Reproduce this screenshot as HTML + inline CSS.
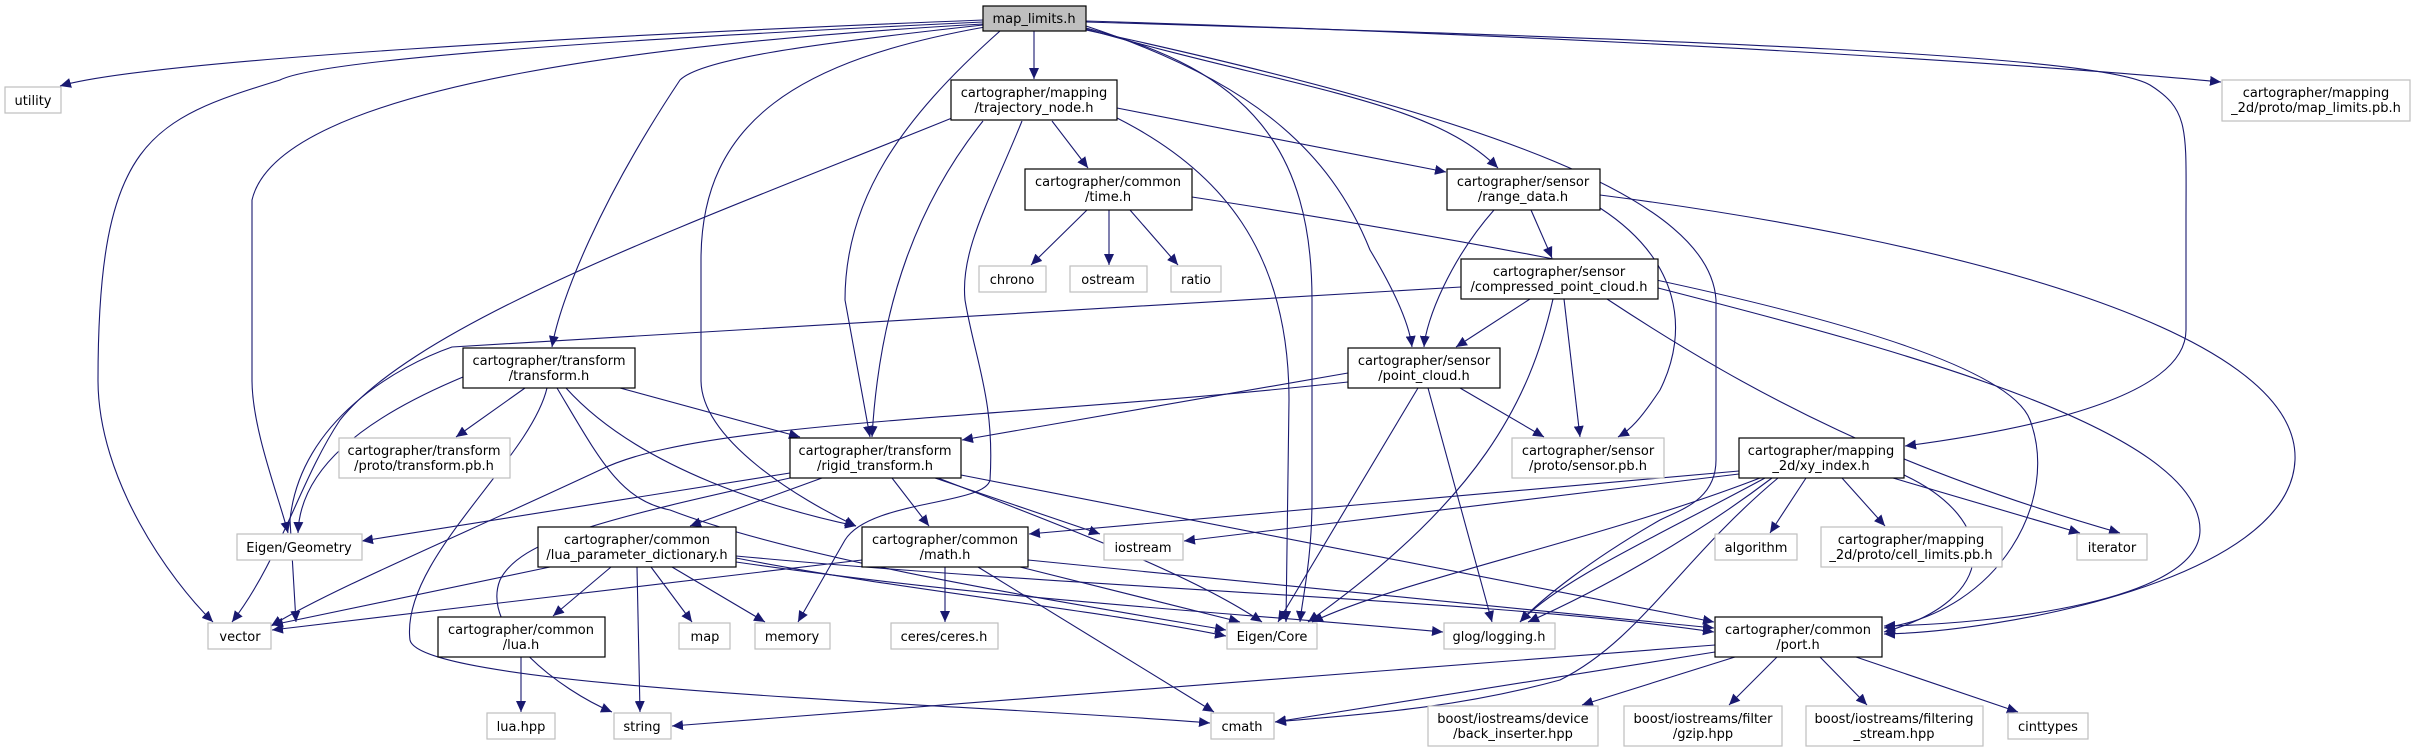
<!DOCTYPE html>
<html><head><meta charset="utf-8"><style>
html,body{margin:0;padding:0;background:#fff;}
svg{display:block;}
text{font-family:"DejaVu Sans","Liberation Sans",sans-serif;font-size:13px;fill:#000;text-anchor:middle;}
.e{fill:none;stroke:#191970;stroke-width:1.1;marker-end:url(#a);}
.n{fill:#fff;stroke:#000;stroke-width:1.2;}
.x{fill:#fff;stroke:#bfbfbf;stroke-width:1.2;}
</style></head><body>
<svg width="2416" height="752" viewBox="0 0 2416 752" xmlns="http://www.w3.org/2000/svg">
<defs><marker id="a" markerUnits="userSpaceOnUse" markerWidth="12" markerHeight="10" refX="11" refY="5" orient="auto"><path d="M0,0 L11,5 L0,10 z" fill="#191970"/></marker></defs>
<g>
<path class="e" d="M983,20 C600,35 150,60 60,86"/>
<path class="e" d="M1034,31 L1034,79"/>
<path class="e" d="M983,22 C600,40 320,60 280,80 C150,120 98,140 98,380 C98,480 170,580 213,622"/>
<path class="e" d="M983,24 C700,40 280,80 252,200 L252,380 C252,430 280,500 288,533"/>
<path class="e" d="M983,25 C800,45 700,60 680,80 C600,200 560,300 552,347"/>
<path class="e" d="M985,27 C800,60 701,120 701,260 L701,380 C701,440 800,500 856,526"/>
<path class="e" d="M1000,31 C900,120 845,200 845,300 L870,437"/>
<path class="e" d="M1086,28 C1250,70 1312,150 1312,300 L1312,500 C1312,560 1302,600 1300,622"/>
<path class="e" d="M1086,26 C1250,80 1330,150 1370,250 C1400,300 1410,330 1412,347"/>
<path class="e" d="M1086,29 C1300,90 1430,100 1498,168"/>
<path class="e" d="M1086,30 C1500,120 1710,200 1716,300 L1716,460 C1716,500 1680,510 1660,520 C1590,560 1540,600 1520,622"/>
<path class="e" d="M1086,22 C1700,40 2100,55 2150,85 C2190,110 2186,130 2186,220 L2186,330 C2186,380 2100,420 1905,446"/>
<path class="e" d="M1086,21 C1700,40 2100,70 2221,82"/>
<path class="e" d="M952,118 C700,220 420,320 340,420 C300,480 280,560 232,622"/>
<path class="e" d="M983,121 C920,200 880,300 872,437"/>
<path class="e" d="M1022,121 C990,200 960,250 965,300 C975,360 995,400 990,480 C985,505 870,500 845,540 L798,622"/>
<path class="e" d="M1117,118 C1220,170 1289,250 1289,400 L1286,622"/>
<path class="e" d="M1052,121 L1088,168"/>
<path class="e" d="M1117,108 L1446,172"/>
<path class="e" d="M1087,210 L1031,265"/>
<path class="e" d="M1109,210 L1109,265"/>
<path class="e" d="M1130,210 L1178,265"/>
<path class="e" d="M1192,197 C1600,260 2000,340 2030,420 C2060,500 2000,610 1884,628"/>
<path class="e" d="M1531,210 L1552,258"/>
<path class="e" d="M1494,210 C1450,260 1426,320 1424,347"/>
<path class="e" d="M1600,208 C1680,260 1690,330 1660,390 C1640,420 1630,430 1618,437"/>
<path class="e" d="M1600,195 C1950,240 2300,330 2295,460 C2290,580 2000,632 1884,634"/>
<path class="e" d="M1530,299 L1456,347"/>
<path class="e" d="M1553,299 C1530,400 1480,500 1308,622"/>
<path class="e" d="M1564,299 L1580,437"/>
<path class="e" d="M1607,299 C1760,400 1900,470 2120,533"/>
<path class="e" d="M1658,288 C1900,350 2200,430 2200,530 C2200,600 2000,624 1884,626"/>
<path class="e" d="M1461,287 L452,347 C400,365 300,420 290,520 L296,622"/>
<path class="e" d="M1348,373 L962,440"/>
<path class="e" d="M1348,382 C1000,420 700,420 600,470 C450,540 330,590 271,626"/>
<path class="e" d="M1460,388 L1544,437"/>
<path class="e" d="M1418,388 L1278,622"/>
<path class="e" d="M1428,388 L1492,622"/>
<path class="e" d="M525,388 L456,437"/>
<path class="e" d="M463,377 C360,420 300,470 298,533"/>
<path class="e" d="M620,388 L800,437"/>
<path class="e" d="M547,388 C530,460 400,560 410,640 C420,690 1000,705 1210,723"/>
<path class="e" d="M566,388 C640,470 780,510 856,526"/>
<path class="e" d="M557,388 C600,460 620,500 670,510 C800,560 1050,600 1226,630"/>
<path class="e" d="M790,473 L362,541"/>
<path class="e" d="M790,478 C600,520 520,540 500,580 C480,630 560,690 612,712"/>
<path class="e" d="M822,478 L690,526"/>
<path class="e" d="M892,478 L929,526"/>
<path class="e" d="M935,478 L1100,534"/>
<path class="e" d="M938,478 C1100,540 1200,580 1262,622"/>
<path class="e" d="M961,475 L1714,622"/>
<path class="e" d="M550,567 L272,625"/>
<path class="e" d="M611,567 L553,616"/>
<path class="e" d="M637,567 L640,712"/>
<path class="e" d="M651,567 L692,622"/>
<path class="e" d="M672,567 L765,622"/>
<path class="e" d="M736,558 C900,590 1100,610 1226,636"/>
<path class="e" d="M736,562 C1000,600 1200,610 1443,632"/>
<path class="e" d="M736,556 C1100,590 1500,600 1714,632"/>
<path class="e" d="M862,560 L272,630"/>
<path class="e" d="M945,567 L945,622"/>
<path class="e" d="M978,567 L1214,712"/>
<path class="e" d="M1020,567 L1240,622"/>
<path class="e" d="M1028,560 L1714,628"/>
<path class="e" d="M521,657 L521,712"/>
<path class="e" d="M1739,471 L1029,534"/>
<path class="e" d="M1739,474 L1184,541"/>
<path class="e" d="M1760,478 C1600,540 1400,580 1312,622"/>
<path class="e" d="M1765,478 C1650,540 1560,580 1520,622"/>
<path class="e" d="M1772,478 C1690,540 1600,590 1528,622"/>
<path class="e" d="M1778,478 C1680,560 1640,640 1560,680 C1450,710 1350,715 1275,722"/>
<path class="e" d="M1806,478 L1770,533"/>
<path class="e" d="M1842,478 L1885,526"/>
<path class="e" d="M1893,478 L2080,533"/>
<path class="e" d="M1904,475 C2000,520 2000,600 1884,632"/>
<path class="e" d="M1715,645 L672,726"/>
<path class="e" d="M1715,652 L1275,722"/>
<path class="e" d="M1735,657 L1582,705"/>
<path class="e" d="M1777,657 L1729,705"/>
<path class="e" d="M1820,657 L1867,705"/>
<path class="e" d="M1856,657 L2018,712"/>
</g>
<g>
<rect x="983" y="6" width="103" height="25" fill="#bfbfbf" stroke="#000" stroke-width="1.2"/><text x="1034" y="23">map_limits.h</text>
<rect class="x" x="5" y="87" width="56" height="26"/><text x="33" y="105">utility</text>
<rect class="n" x="951" y="80" width="166" height="40"/><text x="1034" y="97">cartographer/mapping</text><text x="1034" y="112">/trajectory_node.h</text>
<rect class="x" x="2222" y="80" width="188" height="41"/><text x="2316" y="97">cartographer/mapping</text><text x="2316" y="112">_2d/proto/map_limits.pb.h</text>
<rect class="n" x="1025" y="169" width="167" height="41"/><text x="1108" y="186">cartographer/common</text><text x="1108" y="201">/time.h</text>
<rect class="n" x="1447" y="169" width="153" height="41"/><text x="1523" y="186">cartographer/sensor</text><text x="1523" y="201">/range_data.h</text>
<rect class="x" x="979" y="266" width="67" height="26"/><text x="1012" y="284">chrono</text>
<rect class="x" x="1070" y="266" width="77" height="26"/><text x="1108" y="284">ostream</text>
<rect class="x" x="1171" y="266" width="50" height="26"/><text x="1196" y="284">ratio</text>
<rect class="n" x="1461" y="259" width="197" height="40"/><text x="1559" y="276">cartographer/sensor</text><text x="1559" y="291">/compressed_point_cloud.h</text>
<rect class="n" x="463" y="348" width="172" height="40"/><text x="549" y="365">cartographer/transform</text><text x="549" y="380">/transform.h</text>
<rect class="n" x="1348" y="348" width="152" height="40"/><text x="1424" y="365">cartographer/sensor</text><text x="1424" y="380">/point_cloud.h</text>
<rect class="x" x="339" y="438" width="171" height="40"/><text x="424" y="455">cartographer/transform</text><text x="424" y="470">/proto/transform.pb.h</text>
<rect class="n" x="790" y="438" width="171" height="40"/><text x="875" y="455">cartographer/transform</text><text x="875" y="470">/rigid_transform.h</text>
<rect class="x" x="1512" y="438" width="152" height="40"/><text x="1588" y="455">cartographer/sensor</text><text x="1588" y="470">/proto/sensor.pb.h</text>
<rect class="n" x="1739" y="438" width="165" height="40"/><text x="1821" y="455">cartographer/mapping</text><text x="1821" y="470">_2d/xy_index.h</text>
<rect class="x" x="237" y="534" width="125" height="26"/><text x="299" y="552">Eigen/Geometry</text>
<rect class="n" x="538" y="527" width="198" height="40"/><text x="637" y="544">cartographer/common</text><text x="637" y="559">/lua_parameter_dictionary.h</text>
<rect class="n" x="862" y="527" width="166" height="40"/><text x="945" y="544">cartographer/common</text><text x="945" y="559">/math.h</text>
<rect class="x" x="1104" y="534" width="79" height="26"/><text x="1143" y="552">iostream</text>
<rect class="x" x="1715" y="534" width="82" height="26"/><text x="1756" y="552">algorithm</text>
<rect class="x" x="1821" y="527" width="181" height="40"/><text x="1911" y="544">cartographer/mapping</text><text x="1911" y="559">_2d/proto/cell_limits.pb.h</text>
<rect class="x" x="2077" y="534" width="70" height="26"/><text x="2112" y="552">iterator</text>
<rect class="x" x="208" y="623" width="63" height="26"/><text x="240" y="641">vector</text>
<rect class="n" x="438" y="617" width="167" height="40"/><text x="521" y="634">cartographer/common</text><text x="521" y="649">/lua.h</text>
<rect class="x" x="679" y="623" width="51" height="26"/><text x="705" y="641">map</text>
<rect class="x" x="755" y="623" width="75" height="26"/><text x="792" y="641">memory</text>
<rect class="x" x="891" y="623" width="107" height="26"/><text x="944" y="641">ceres/ceres.h</text>
<rect class="x" x="1227" y="623" width="90" height="26"/><text x="1272" y="641">Eigen/Core</text>
<rect class="x" x="1444" y="623" width="111" height="26"/><text x="1499" y="641">glog/logging.h</text>
<rect class="n" x="1715" y="617" width="167" height="40"/><text x="1798" y="634">cartographer/common</text><text x="1798" y="649">/port.h</text>
<rect class="x" x="487" y="713" width="68" height="26"/><text x="521" y="731">lua.hpp</text>
<rect class="x" x="614" y="713" width="57" height="26"/><text x="642" y="731">string</text>
<rect class="x" x="1211" y="713" width="63" height="26"/><text x="1242" y="731">cmath</text>
<rect class="x" x="1428" y="706" width="170" height="40"/><text x="1513" y="723">boost/iostreams/device</text><text x="1513" y="738">/back_inserter.hpp</text>
<rect class="x" x="1624" y="706" width="158" height="40"/><text x="1703" y="723">boost/iostreams/filter</text><text x="1703" y="738">/gzip.hpp</text>
<rect class="x" x="1806" y="706" width="177" height="40"/><text x="1894" y="723">boost/iostreams/filtering</text><text x="1894" y="738">_stream.hpp</text>
<rect class="x" x="2008" y="713" width="80" height="26"/><text x="2048" y="731">cinttypes</text>
</g>
</svg>
</body></html>
